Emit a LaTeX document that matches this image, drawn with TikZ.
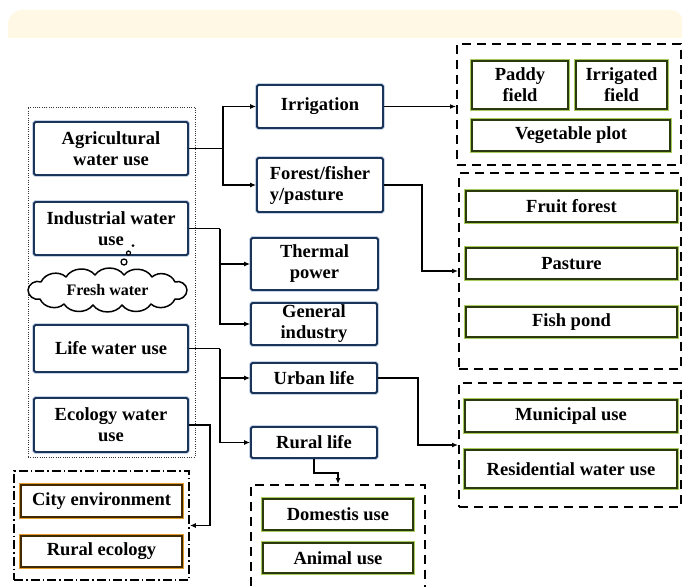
\documentclass[tikz,border=0pt]{standalone}
\usepackage{fontspec}
\setmainfont{Liberation Serif}
\usetikzlibrary{arrows.meta}

\definecolor{navy}{HTML}{1B355A}
\definecolor{navyhalo}{HTML}{A9BCD9}
\definecolor{olivedark}{HTML}{2B3A0E}
\definecolor{olivehalo}{HTML}{A8CC5A}
\definecolor{browndark}{HTML}{3F2A05}
\definecolor{orangehalo}{HTML}{E39B2A}
\definecolor{bandfill}{HTML}{FEF8E4}

\tikzset{
  lbl/.style={font=\bfseries\fontsize{18.5}{21}\selectfont, align=center, inner sep=0pt},
  bluebox/.style={lbl, rectangle, rounded corners=1.5pt, fill=white,
    preaction={draw=navyhalo, line width=3.4pt},
    draw=navy, line width=1.8pt},
  greenbox/.style={lbl, rectangle, fill=white,
    preaction={draw=olivehalo, line width=3.4pt},
    draw=olivedark, line width=1.6pt},
  orangebox/.style={lbl, rectangle, fill=white,
    preaction={draw=orangehalo, line width=3.4pt},
    draw=browndark, line width=1.4pt},
  dashbox/.style={rectangle, draw=black, line width=2pt, dash pattern=on 9pt off 6pt, inner sep=0pt},
  dotbox/.style={rectangle, draw=black!80, line width=1pt, dash pattern=on 1pt off 1.3pt, inner sep=0pt},
  dashdotbox/.style={rectangle, draw=black, line width=1.8pt,
    dash pattern=on 9pt off 3pt on 1.5pt off 3pt, inner sep=0pt},
  arr/.style={draw=black, line width=1.4pt, -{Latex[length=6pt,width=5pt]}},
  bubble/.style={circle, draw=black, line width=1.3pt, fill=white, inner sep=0pt},
  puff/.style={bend left=55},
}

\begin{document}
\begin{tikzpicture}[x=1pt,y=-1pt]
\useasboundingbox (0,0) rectangle (682,586);
\clip (0,0) rectangle (682,586);
\fill[white] (0,0) rectangle (682,586);

% header band
\fill[bandfill] (8,38) [rounded corners=14pt] -- (8,10) -- (684,10) [sharp corners] -- (684,38) -- cycle;

% group frames
\node[dotbox, minimum width=167, minimum height=350] (srcframe) at (111.5,282) {};
\node[dashdotbox, minimum width=175, minimum height=109] (ecoframe) at (101.5,525.5) {};
\node[dashbox, minimum width=224, minimum height=121] (irrframe) at (569,104.5) {};
\node[dashbox, minimum width=222, minimum height=196] (forframe) at (570,271) {};
\node[dashbox, minimum width=222, minimum height=124] (urbframe) at (570,445) {};
\node[dashbox, minimum width=174, minimum height=130] (rurframe) at (338,550) {};

% water sources
\node[bluebox, minimum width=154, minimum height=53] (agri) at (111,148.5) {Agricultural\\water use};
\node[bluebox, minimum width=154, minimum height=53] (indus) at (111,228.5) {Industrial water\\use};
\node[bluebox, minimum width=154, minimum height=47] (life) at (111,348.5) {Life water use};
\node[bluebox, minimum width=154, minimum height=54] (eco) at (111,425) {Ecology water\\use};

% thought cloud
\draw[line width=1.5pt, fill=white, line join=round]
  (28,290) to[puff] (41,282) to[puff] (66,277) to[puff] (95,275) to[puff] (124,275)
  to[puff] (152,277) to[puff] (175,282) to[puff] (187,290) to[puff] (175,299)
  to[puff] (151,304) to[puff] (122,305) to[puff] (93,305) to[puff] (64,304)
  to[puff] (40,299) to[puff] (28,290) -- cycle;
\node[font=\bfseries\fontsize{16}{18}\selectfont, inner sep=0pt] (fresh) at (107.5,290) {Fresh water};
\node[bubble, minimum size=6pt] (b1) at (124,262) {};
\node[bubble, minimum size=4pt, line width=1.2pt] (b2) at (128.5,253) {};
\node[circle, fill=black, inner sep=0pt, minimum size=3pt] (b3) at (133,245.5) {};

% sectors
\node[bluebox, minimum width=126, minimum height=43] (irrig) at (320,106.5) {Irrigation};
\node[bluebox, minimum width=126, minimum height=54, align=left] (forest) at (320,185) {Forest/fisher\\y/pasture};
\node[bluebox, minimum width=127, minimum height=52] (thermal) at (314.5,264) {Thermal\\power};
\node[bluebox, minimum width=126, minimum height=42] (general) at (314,324) {General\\industry};
\node[bluebox, minimum width=126, minimum height=30] (urban) at (314,378) {Urban life};
\node[bluebox, minimum width=126, minimum height=31] (rural) at (314,442.5) {Rural life};

% end uses
\node[greenbox, minimum width=96, minimum height=48] (paddy) at (520,85) {Paddy\\field};
\node[greenbox, minimum width=91, minimum height=48] (irrfield) at (621.5,85) {Irrigated\\field};
\node[greenbox, minimum width=198, minimum height=31] (veg) at (571,135.5) {Vegetable plot};
\node[greenbox, minimum width=211, minimum height=31] (fruit) at (571.5,206.5) {Fruit forest};
\node[greenbox, minimum width=211, minimum height=31] (pasture) at (571.5,263.5) {Pasture};
\node[greenbox, minimum width=211, minimum height=30] (fish) at (571.5,322) {Fish pond};
\node[greenbox, minimum width=212, minimum height=32] (municipal) at (571,416) {Municipal use};
\node[greenbox, minimum width=212, minimum height=38] (resid) at (571,469) {Residential water use};
\node[greenbox, minimum width=150, minimum height=31] (domestic) at (338,514.5) {Domestis use};
\node[greenbox, minimum width=150, minimum height=30] (animal) at (338,558) {Animal use};
\node[orangebox, minimum width=161, minimum height=32] (city) at (101.5,501) {City environment};
\node[orangebox, minimum width=161, minimum height=31] (ruraleco) at (101.5,551.5) {Rural ecology};

% junction points
\coordinate (jagri) at (223,148.5);
\coordinate (jind) at (220,228.5);
\coordinate (jlife) at (220,348.5);
\coordinate (jeco) at (210,425);
\coordinate (jfor) at (422,185);
\coordinate (jurb) at (418,378);
\coordinate (jrur) at (314,473);

% connectors
\draw[line width=1.4pt] (agri.east) -- (jagri);
\draw[arr] (jagri) |- (irrig.west);
\draw[arr] (jagri) |- (forest.west);
\draw[line width=1.4pt] (indus.east) -- (jind);
\draw[arr] (jind) |- (thermal.west);
\draw[arr] (jind) |- (general.west);
\draw[line width=1.4pt] (life.east) -- (jlife);
\draw[arr] (jlife) |- (urban.west);
\draw[arr] (jlife) |- (rural.west);
\draw[arr] (eco.east) -- (jeco) |- (ecoframe.east);
\draw[arr] (irrig.east) -- (irrig.east -| irrframe.west);
\draw[arr] (forest.east) -- (jfor) |- (forframe.west);
\draw[arr] (urban.east) -- (jurb) |- (urbframe.west);
\draw[arr] (rural.south) -- (jrur) -| (rurframe.north);
\end{tikzpicture}
\end{document}
